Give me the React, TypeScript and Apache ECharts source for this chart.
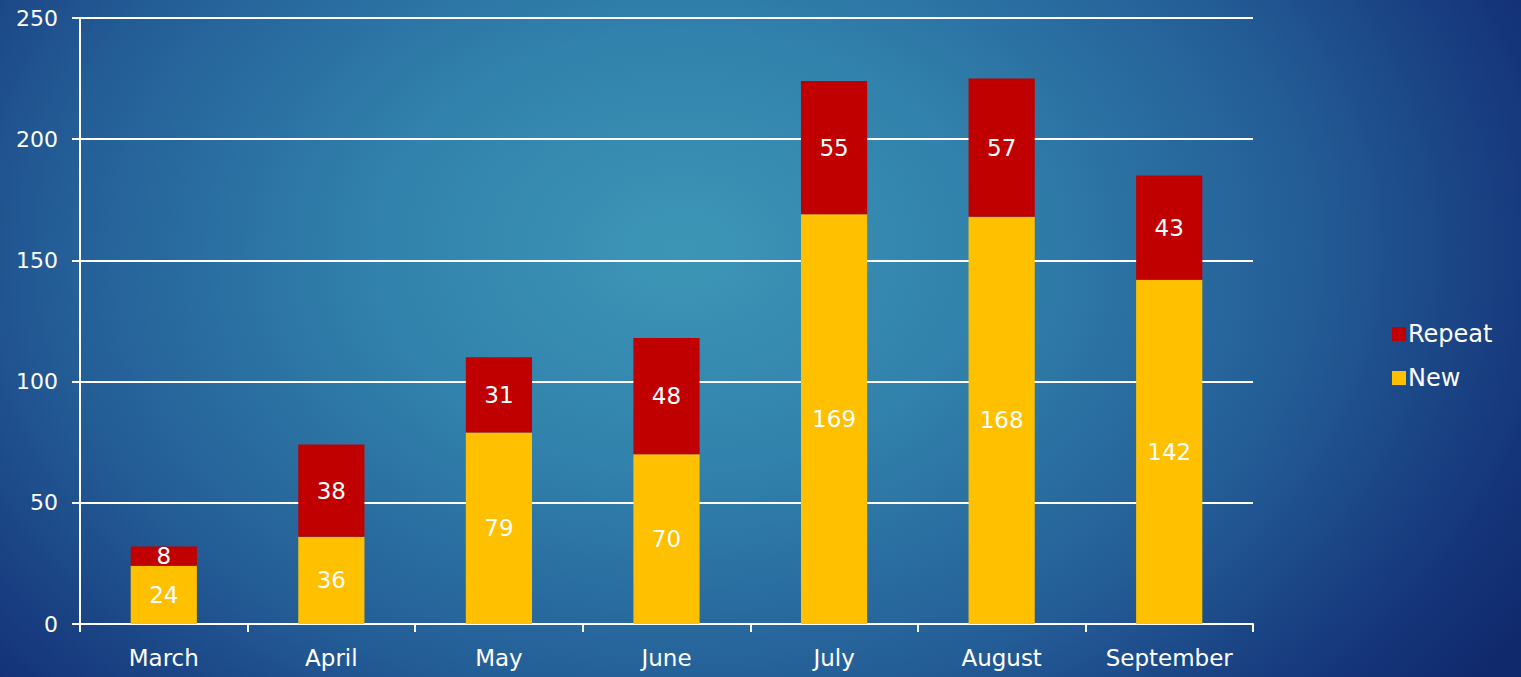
import React, { useEffect, useRef } from "react";
import * as echarts from "echarts";

const categories = ["March", "April", "May", "June", "July", "August", "September"];
const newValues = [24, 36, 79, 70, 169, 168, 142];
const repeatValues = [8, 38, 31, 48, 55, 57, 43];
const yTicks = { min: 0, max: 250, interval: 50 };

const FONT = "'DejaVu Sans', 'Noto Sans', sans-serif";

export default function App() {
  const ref = useRef<HTMLDivElement>(null);
  useEffect(() => {
    document.body.style.margin = "0";
    const chart = echarts.init(ref.current!, null, { renderer: "svg" });
    const label = {
      show: true,
      position: "inside",
      color: "#ffffff",
      fontSize: 23,
      fontFamily: FONT,
    };
    chart.setOption({
      animation: false,
      textStyle: { fontFamily: FONT },
      grid: { left: 80, right: 268, top: 18, bottom: 53, containLabel: false },
      legend: {
        orient: "vertical",
        left: 1387,
        top: 317,
        itemWidth: 14,
        itemHeight: 14,
        itemGap: 20,
        icon: "rect",
        data: ["Repeat", "New"],
        textStyle: { color: "#ffffff", fontSize: 24, fontFamily: FONT, padding: [0, 0, 0, -3] },
      },
      xAxis: {
        type: "category",
        data: categories,
        axisLine: { show: true, lineStyle: { color: "#ffffff", width: 2 } },
        axisTick: { show: true, length: 8, lineStyle: { color: "#ffffff", width: 2 } },
        axisLabel: { color: "#ffffff", fontSize: 23, margin: 22, fontFamily: FONT },
      },
      yAxis: {
        type: "value",
        min: yTicks.min,
        max: yTicks.max,
        interval: yTicks.interval,
        axisLine: { show: true, lineStyle: { color: "#ffffff", width: 2 } },
        axisTick: { show: true, length: 8, lineStyle: { color: "#ffffff", width: 2 } },
        axisLabel: { color: "#ffffff", fontSize: 22, margin: 22, fontFamily: FONT },
        splitLine: { show: true, lineStyle: { color: "#ffffff", width: 2 } },
      },
      series: [
        {
          name: "New",
          type: "bar",
          stack: "total",
          data: newValues,
          barWidth: "39.5%",
          itemStyle: { color: "#ffc000" },
          label,
        },
        {
          name: "Repeat",
          type: "bar",
          stack: "total",
          data: repeatValues,
          barWidth: "39.5%",
          itemStyle: { color: "#c00000" },
          label,
        },
      ],
    });
    return () => chart.dispose();
  }, []);
  return (
    <div
      style={{
        position: "absolute",
        left: 0,
        top: 0,
        width: 1521,
        height: 677,
        background:
          "radial-gradient(ellipse 1000px 720px at 680px 250px, #3d96b6 0%, #3182ac 30%, #245e97 62%, #15357a 88%, #10296c 100%)",
      }}
    >
      <div ref={ref} style={{ width: 1521, height: 677 }} />
    </div>
  );
}
